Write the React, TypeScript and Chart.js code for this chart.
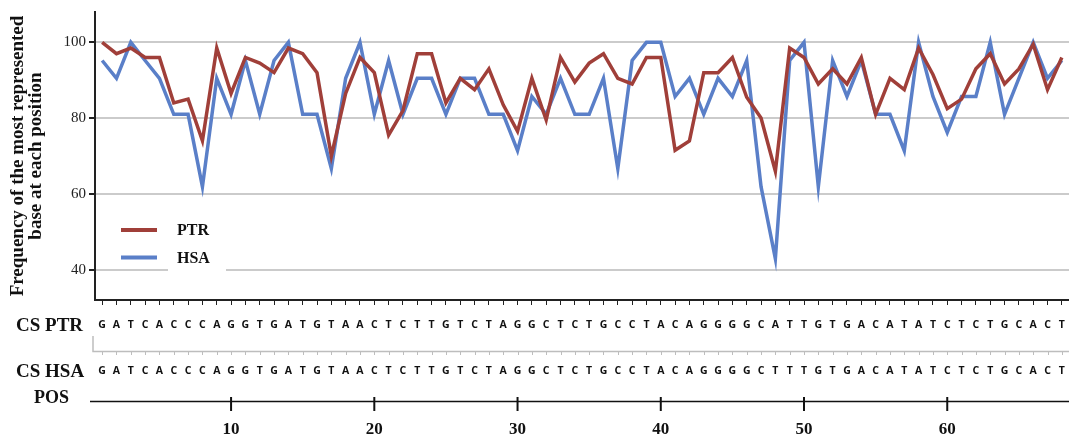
import React, { useEffect, useRef } from "react";
import { Chart, registerables } from "chart.js";

Chart.register(...registerables);

// ---- data ----
const positions = [
  1, 2, 3, 4, 5, 6, 7, 8, 9, 10, 11, 12, 13, 14, 15, 16, 17, 18, 19, 20,
  21, 22, 23, 24, 25, 26, 27, 28, 29, 30, 31, 32, 33, 34, 35, 36, 37, 38, 39, 40,
  41, 42, 43, 44, 45, 46, 47, 48, 49, 50, 51, 52, 53, 54, 55, 56, 57, 58, 59, 60,
  61, 62, 63, 64, 65, 66, 67, 68,
];

const ptrValues = [
  100, 97, 98.5, 96, 96, 84, 85, 74, 98.5, 86.5,
  96, 94.5, 92, 98.5, 97, 92, 70, 86.5, 96, 92,
  75.5, 82, 97, 97, 84, 90.5, 87.5, 93, 83.5, 76.5,
  90.5, 79.5, 96, 89.5, 94.5, 97, 90.5, 89, 96, 96,
  71.5, 74, 92, 92, 96, 85.5, 80, 66, 98.5, 96,
  89, 93, 89, 96, 81, 90.5, 87.5, 98.5, 91.5, 82.5,
  85, 93, 97, 89, 93, 99.5, 87.5, 96,
];

const hsaValues = [
  95.2, 90.5, 100, 95.2, 90.5, 81, 81, 61.9, 90.5, 81,
  95.2, 81, 95.2, 100, 81, 81, 66.7, 90.5, 100, 81,
  95.2, 81, 90.5, 90.5, 81, 90.5, 90.5, 81, 81, 71.4,
  85.7, 81, 90.5, 81, 81, 90.5, 66.7, 95.2, 100, 100,
  85.7, 90.5, 81, 90.5, 85.7, 95.2, 61.9, 42.9, 95.2, 100,
  61.9, 95.2, 85.7, 95.2, 81, 81, 71.4, 100, 85.7, 76.2,
  85.7, 85.7, 100, 81, 90.5, 100, 90.5, 95.2,
];

const ptrSeq = "GATCACCCAGGTGATGTAACTCTTGTCTAGGCTCTGCCTACAGGGGCATTGTGACATATCTCTGCACT".split("");
const hsaSeq = "GATCACCCAGGTGATGTAACTCTTGTCTAGGCTCTGCCTACAGGGGCTTTGTGACATATCTCTGCACT".split("");

const seriesLabels = ["PTR", "HSA"];
const rowLabels = ["CS PTR", "CS HSA"];
const posLabel = "POS";
const yTicks = [40, 60, 80, 100];
const posTicks = [10, 20, 30, 40, 50, 60];
const yTitle = ["Frequency of the most represented", "base at each position"];

const PTR_COLOR = "#a03f39";
const HSA_COLOR = "#5a7fc8";
const SERIF = '"Liberation Serif", "DejaVu Serif", serif';

const overlayPlugin = {
  id: "overlay",
  afterDraw(chart: any) {
    const ctx = chart.ctx as CanvasRenderingContext2D;
    const xs = chart.scales.x;
    const W = chart.width;
    ctx.save();

    // legend (inside plot)
    ctx.fillStyle = "#ffffff";
    ctx.fillRect(168, 214, 58, 62);
    const legY = [230, 257.5];
    chart.data.datasets.forEach((ds: any, i: number) => {
      ctx.strokeStyle = ds.borderColor;
      ctx.lineWidth = 4;
      ctx.lineCap = "butt";
      ctx.beginPath();
      ctx.moveTo(121, legY[i]);
      ctx.lineTo(157, legY[i]);
      ctx.stroke();
      ctx.fillStyle = "#111";
      ctx.font = `bold 16px ${SERIF}`;
      ctx.textAlign = "left";
      ctx.textBaseline = "middle";
      ctx.fillText(ds.label, 177, legY[i] + 1);
    });

    // sequence rows
    const rowY = [325, 371];
    const seqs = [ptrSeq, hsaSeq];
    rowY.forEach((y, r) => {
      ctx.fillStyle = "#111";
      ctx.font = `bold 19px ${SERIF}`;
      ctx.textAlign = "left";
      ctx.textBaseline = "middle";
      ctx.fillText(rowLabels[r], 16, y + 1);
      ctx.font = 'bold 10.5px "Open Sans", "DejaVu Sans", sans-serif';
      ctx.textAlign = "center";
      seqs[r].forEach((ch, i) => {
        ctx.fillText(ch, xs.getPixelForValue(positions[i]), y);
      });
    });

    // gray separator axis
    ctx.strokeStyle = "#bdbdbd";
    ctx.lineWidth = 1.5;
    ctx.beginPath();
    ctx.moveTo(93, 336);
    ctx.lineTo(93, 351.5);
    ctx.lineTo(W, 351.5);
    ctx.stroke();
    ctx.lineWidth = 1;
    positions.forEach((p) => {
      const px = Math.round(xs.getPixelForValue(p)) + 0.5;
      ctx.beginPath();
      ctx.moveTo(px, 351.5);
      ctx.lineTo(px, 355);
      ctx.stroke();
    });

    // POS axis
    ctx.fillStyle = "#111";
    ctx.font = `bold 18px ${SERIF}`;
    ctx.textAlign = "left";
    ctx.textBaseline = "middle";
    ctx.fillText(posLabel, 34, 398);
    ctx.strokeStyle = "#111";
    ctx.lineWidth = 1.5;
    ctx.beginPath();
    ctx.moveTo(90, 401.5);
    ctx.lineTo(W, 401.5);
    ctx.stroke();
    ctx.lineWidth = 2;
    ctx.font = `bold 17px ${SERIF}`;
    ctx.textAlign = "center";
    posTicks.forEach((p) => {
      const px = xs.getPixelForValue(p);
      ctx.beginPath();
      ctx.moveTo(px, 397);
      ctx.lineTo(px, 411);
      ctx.stroke();
      ctx.fillText(String(p), px, 430);
    });

    ctx.restore();
  },
};

export default function App() {
  const canvasRef = useRef<HTMLCanvasElement | null>(null);

  useEffect(() => {
    if (!canvasRef.current) return;
    const chart = new Chart(canvasRef.current, {
      type: "line",
      data: {
        datasets: [
          {
            label: seriesLabels[0],
            data: positions.map((p, i) => ({ x: p, y: ptrValues[i] })),
            borderColor: PTR_COLOR,
            backgroundColor: PTR_COLOR,
            borderWidth: 3.5,
            pointRadius: 0,
            tension: 0,
          },
          {
            label: seriesLabels[1],
            data: positions.map((p, i) => ({ x: p, y: hsaValues[i] })),
            borderColor: HSA_COLOR,
            backgroundColor: HSA_COLOR,
            borderWidth: 3.5,
            pointRadius: 0,
            tension: 0,
          },
        ],
      },
      options: {
        animation: false,
        responsive: false,
        devicePixelRatio: 1,
        layout: { padding: { top: 12, right: 0, bottom: 135, left: 0 } },
        plugins: { legend: { display: false }, tooltip: { enabled: false } },
        scales: {
          x: {
            type: "linear",
            min: 0.5,
            max: 68.5,
            afterBuildTicks: (s: any) => {
              s.ticks = positions.map((v) => ({ value: v }));
            },
            grid: {
              drawOnChartArea: false,
              drawTicks: true,
              tickLength: 5,
              tickColor: "#222",
              lineWidth: 1,
            },
            border: { display: true, color: "#222", width: 2 },
            ticks: { display: false },
          },
          y: {
            min: 32,
            max: 108,
            afterBuildTicks: (s: any) => {
              s.ticks = yTicks.map((v) => ({ value: v }));
            },
            afterFit: (s: any) => {
              s.width = 95;
            },
            grid: {
              color: "#cbcbcb",
              lineWidth: 2,
              tickColor: "#222",
              tickLength: 6,
            },
            border: { display: true, color: "#222", width: 2 },
            ticks: {
              font: { family: SERIF, size: 15 },
              color: "#222",
              padding: 3,
            },
            title: {
              display: true,
              text: yTitle,
              color: "#111",
              font: { family: SERIF, size: 19, weight: "bold", lineHeight: 0.95 },
              padding: { top: 9, bottom: 0 },
            },
          },
        },
      },
      plugins: [overlayPlugin],
    } as any);
    return () => chart.destroy();
  }, []);

  return (
    <div style={{ position: "absolute", left: 0, top: 0, width: 1069, height: 440, background: "#fff" }}>
      <canvas ref={canvasRef} width={1069} height={440} style={{ display: "block" }} />
    </div>
  );
}
